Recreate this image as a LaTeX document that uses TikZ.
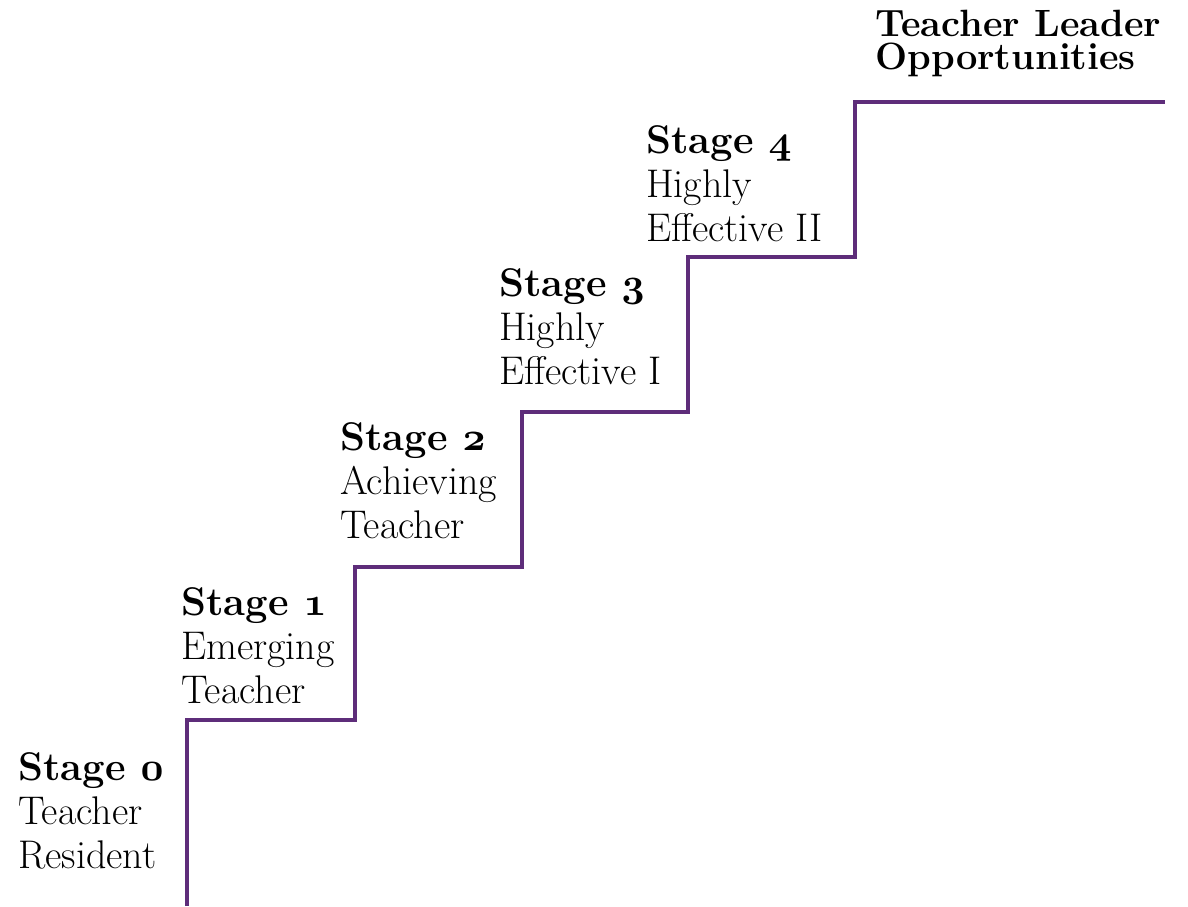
\documentclass[tikz,border=0pt]{standalone}
\usepackage{fontspec}
\definecolor{stair}{RGB}{94,45,122}
\font\osnfont=cmmib10 at 40pt
\newcommand{\osn}[1]{{\osnfont #1}}
\tikzset{
  lbl/.style={anchor=base west, inner sep=0pt, align=left, font=\fontsize{40}{44}\selectfont},
  ttl/.style={anchor=base west, inner sep=0pt, align=left, font=\fontsize{38}{33}\selectfont\bfseries},
  stairline/.style={draw=stair, line width=4.5pt, line join=miter}
}
\begin{document}
\begin{tikzpicture}[x=1pt,y=-1pt]
\useasboundingbox (0,0) rectangle (1188,906);
\coordinate (s0) at (187,906);
\coordinate (c1) at (187,720);
\coordinate (c2) at (355,720);
\coordinate (c3) at (355,567);
\coordinate (c4) at (522,567);
\coordinate (c5) at (522,412);
\coordinate (c6) at (688,412);
\coordinate (c7) at (688,257);
\coordinate (c8) at (855,257);
\coordinate (c9) at (855,102);
\coordinate (top) at (1165,102);
\draw[stairline] (s0) -- (c1) -- (c2) -- (c3) -- (c4) -- (c5) -- (c6) -- (c7) -- (c8) -- (c9) -- (top);
\node[lbl] (st0) at (18,868) {\textbf{Stage \osn{0}}\\Teacher\\Resident};
\node[lbl] (st1) at (181,703) {\textbf{Stage \osn{1}}\\Emerging\\Teacher};
\node[lbl] (st2) at (340,538) {\textbf{Stage \osn{2}}\\Achieving\\Teacher};
\node[lbl] (st3) at (499,384) {\textbf{Stage \osn{3}}\\Highly\\Effective I};
\node[lbl] (st4) at (646,241) {\textbf{Stage \osn{4}}\\Highly\\Effective II};
\node[ttl] (tl) at (875,69) {Teacher Leader\\Opportunities};
\end{tikzpicture}
\end{document}
